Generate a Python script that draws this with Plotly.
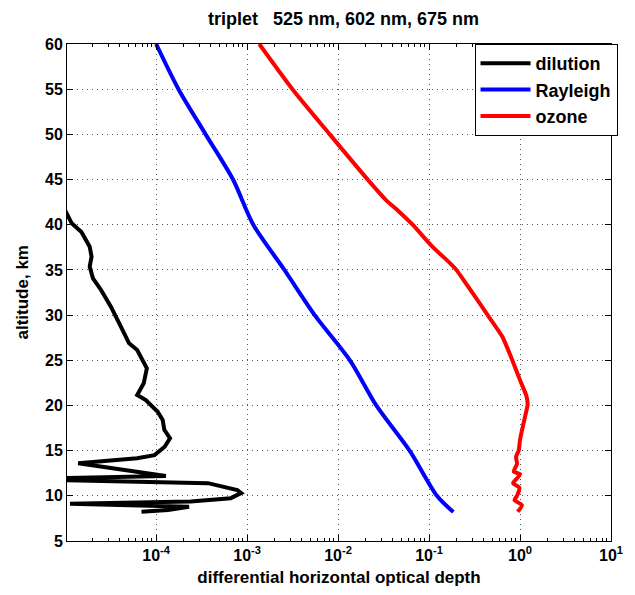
import plotly.graph_objects as go

# ---------------- data ----------------
dilution_alt = [42.0, 41.6, 40.16, 39.2, 37.57, 36.46, 35.36, 34.07, 32.78, 30.93, 29.09,
                26.88, 26.14, 24.1, 22.45, 21.16, 20.6, 19.3, 18.4, 17.3, 16.36, 15.43,
                14.5, 14.15, 13.6, 12.2, 11.85, 11.4, 10.64, 10.3, 9.74, 9.36, 9.12,
                8.8, 8.43, 8.24]
dilution_val = [7.9e-6, 1.0e-5, 1.18e-5, 1.51e-5, 1.86e-5, 1.95e-5, 1.86e-5, 2.02e-5,
                2.48e-5, 3.18e-5, 3.93e-5, 5.04e-5, 6.19e-5, 7.9e-5, 7.3e-5, 6.19e-5,
                7.7e-5, 1.04e-4, 1.18e-4, 1.23e-4, 1.42e-4, 1.24e-4, 9.6e-5, 6.17e-5,
                1.39e-5, 1.28e-4, 2.5e-6, 3.7e-4, 7.8e-4, 8.6e-4, 6.6e-4, 2.4e-4,
                1.13e-5, 2.3e-4, 1.35e-4, 6.9e-5]

rayleigh_alt = [60, 55, 50, 45, 40, 35, 30, 25, 20, 15, 10, 8.2]
rayleigh_val = [1.0e-4, 1.76e-4, 3.5e-4, 7.0e-4, 1.17e-3, 2.57e-3, 5.53e-3, 1.35e-2,
                2.63e-2, 6.11e-2, 0.122, 0.185]

ozone_alt = [60, 55, 50, 44.8, 42.7, 41.6, 40, 37.6, 35.7, 35, 32.4, 30, 27.6, 25, 22.8,
             21.0, 20, 19.5, 17.6, 16.2, 15, 14.3, 13.56, 12.67, 12.4, 11.93, 11.4, 10.9,
             10, 9.53, 8.98, 8.24]
ozone_val = [1.36e-3, 3.15e-3, 8.1e-3, 2.2e-2, 3.39e-2, 4.5e-2, 6.6e-2, 0.108, 0.172,
             0.2, 0.303, 0.441, 0.64, 0.822, 1.0, 1.18, 1.21, 1.18, 1.07, 1.0, 0.966,
             0.904, 0.927, 0.853, 1.0, 0.927, 0.839, 0.984, 0.927, 0.869, 1.05, 0.942]

x_tickvals = [1e-4, 1e-3, 1e-2, 1e-1, 1e0, 1e1]
x_ticktext = ["10<sup>-4</sup>", "10<sup>-3</sup>", "10<sup>-2</sup>",
              "10<sup>-1</sup>", "10<sup>0</sup>", "10<sup>1</sup>"]
y_tickvals = list(range(5, 61, 5))

title_text = "triplet\u00a0\u00a0\u00a0525 nm, 602 nm, 675 nm"
x_title = "differential horizontal optical depth"
y_title = "altitude, km"

# ---------------- figure ----------------
FONT = "Liberation Sans, Arial, sans-serif"

fig = go.Figure()
fig.add_trace(go.Scatter(x=dilution_val, y=dilution_alt, mode="lines", name="dilution",
                         legendgroup="a", line=dict(color="black", width=4)))
fig.add_trace(go.Scatter(x=rayleigh_val, y=rayleigh_alt, mode="lines", name="Rayleigh",
                         legendgroup="b",
                         line=dict(color="#0000ff", width=4, shape="spline", smoothing=0.8)))
fig.add_trace(go.Scatter(x=ozone_val, y=ozone_alt, mode="lines", name="ozone",
                         legendgroup="c",
                         line=dict(color="#ff0000", width=4, shape="spline", smoothing=0.6)))

minor_vals = [m * 10 ** e for e in range(-5, 1) for m in range(2, 10)]

fig.update_xaxes(
    type="log", range=[-4.98, 1],
    tickvals=x_tickvals, ticktext=x_ticktext,
    ticks="inside", ticklen=6, tickcolor="black", tickwidth=1,
    showline=True, linecolor="black", linewidth=1, mirror="allticks",
    showgrid=True, gridcolor="#555555", gridwidth=1, griddash="1px,4px",
    zeroline=False,
    minor=dict(tickvals=minor_vals, ticks="inside", ticklen=3, tickcolor="black",
               showgrid=False),
    tickfont=dict(family=FONT, size=16, color="black", weight="bold"),
    title=dict(text=x_title, font=dict(family=FONT, size=17, color="black", weight="bold"),
               standoff=7),
)
fig.update_yaxes(
    range=[5, 60], tickvals=y_tickvals,
    ticks="inside", ticklen=6, tickcolor="black", tickwidth=1,
    showline=True, linecolor="black", linewidth=1, mirror="allticks",
    showgrid=True, gridcolor="#555555", gridwidth=1, griddash="1px,4px",
    zeroline=False,
    tickfont=dict(family=FONT, size=16, color="black", weight="bold"),
)

fig.add_annotation(text=y_title, xref="paper", yref="paper", x=0, y=0.5,
                   xanchor="center", yanchor="middle", xshift=-45, textangle=-90,
                   showarrow=False,
                   font=dict(family=FONT, size=17, color="black", weight="bold"))

fig.update_layout(
    width=635, height=595,
    margin=dict(l=67, r=13, t=44, b=54),
    paper_bgcolor="white", plot_bgcolor="white",
    title=dict(text=title_text, x=0.541, xanchor="center", y=0.969, yanchor="middle",
               font=dict(family=FONT, size=18, color="black", weight="bold")),
    showlegend=True,
    legend=dict(x=1.012, y=1, xanchor="right", yanchor="top",
                bgcolor="white", bordercolor="black", borderwidth=1,
                font=dict(family=FONT, size=18, color="black", weight="bold"),
                itemwidth=50, tracegroupgap=0),
)

fig.write_html("out.html")
